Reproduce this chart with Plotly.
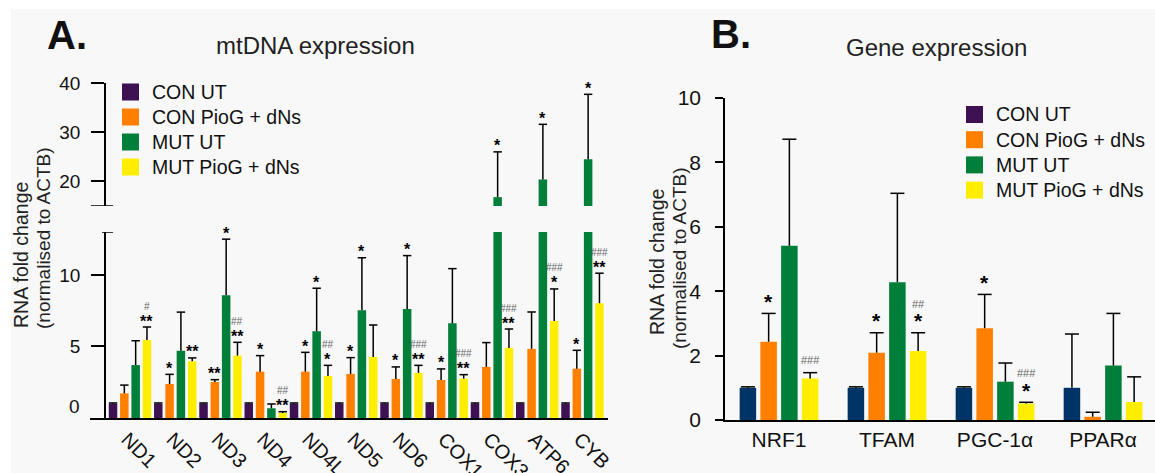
import plotly.graph_objects as go

# ---------------- DATA ----------------
series_names = ["CON UT", "CON PioG + dNs", "MUT UT", "MUT PioG + dNs"]

mt_genes = ["ND1", "ND2", "ND3", "ND4", "ND4L", "ND5", "ND6", "COX1", "COX3", "ATP6", "CYB"]
mt_con_ut = [1.0, 1.0, 1.0, 1.0, 1.0, 1.0, 1.0, 1.0, 1.0, 1.0, 1.0]
mt_con_ut_err = [0.05, 0.05, 0.05, 0.05, 0.05, 0.05, 0.05, 0.05, 0.05, 0.05, 0.05]
mt_con_piog = [1.72, 2.38, 2.52, 3.24, 3.24, 3.08, 2.73, 2.66, 3.57, 4.83, 3.45]
mt_con_piog_err = [0.58, 0.67, 0.16, 1.12, 1.35, 1.14, 0.84, 0.77, 1.70, 2.58, 1.28]
mt_mut_ut = [3.70, 4.70, 8.58, 0.68, 6.06, 7.53, 7.62, 6.62, 16.8, 20.4, 24.5]
mt_mut_ut_err = [1.70, 2.70, 3.92, 0.30, 3.01, 3.67, 3.73, 3.82, 9.2, 11.2, 13.2]
mt_mut_piog = [5.45, 3.96, 4.36, 0.35, 2.94, 4.27, 3.15, 2.75, 4.90, 6.78, 8.02]
mt_mut_piog_err = [0.91, 0.24, 0.93, 0.09, 0.74, 2.23, 0.53, 0.28, 1.32, 2.24, 2.10]

mt_stars_con_piog = ["", "*", "**", "*", "*", "*", "*", "*", "", "", "*"]
mt_stars_mut_ut = ["", "", "*", "", "*", "*", "*", "", "*", "*", "*"]
mt_stars_mut_piog = ["**", "**", "**", "**", "*", "", "**", "**", "**", "*", "**"]
mt_hash_mut_piog = ["#", "", "##", "##", "##", "", "###", "###", "###", "###", "###"]

ge_genes = ["NRF1", "TFAM", "PGC-1\u03b1", "PPAR\u03b1"]
ge_con_ut = [1.0, 1.0, 1.0, 1.0]
ge_con_ut_err = [0.03, 0.03, 0.03, 1.67]
ge_con_piog = [2.43, 2.09, 2.85, 0.10]
ge_con_piog_err = [0.88, 0.62, 1.05, 0.14]
ge_mut_ut = [5.41, 4.28, 1.19, 1.69]
ge_mut_ut_err = [3.31, 2.76, 0.58, 1.62]
ge_mut_piog = [1.29, 2.14, 0.51, 0.56]
ge_mut_piog_err = [0.18, 0.57, 0.04, 0.78]

ge_stars_con_piog = ["*", "*", "*", ""]
ge_stars_mut_piog = ["", "*", "*", ""]
ge_hash_mut_piog = ["###", "##", "###", ""]

# ---------------- STYLE ----------------
W, H = 1155, 473
FONT = "Liberation Sans, Arial, sans-serif"
legend_colors = ["#3d1152", "#ff7f00", "#007f3a", "#ffee00"]
mt_colors = ["#3d1152", "#ff7f00", "#007f3a", "#ffee00"]
ge_colors = ["#003366", "#ff7f00", "#007f3a", "#ffee00"]

MT_STEP, MT_W, MT_CAP = 0.25, 0.188, 6
GE_STEP, GE_W, GE_CAP = 0.192, 0.153, 10
LOWER_MAX = 13


def px_x(p):
    return p / W


def px_y(p):
    return 1 - p / H


fig = go.Figure()

mt_vals = [mt_con_ut, mt_con_piog, mt_mut_ut, mt_mut_piog]
mt_errs = [mt_con_ut_err, mt_con_piog_err, mt_mut_ut_err, mt_mut_piog_err]
ge_vals = [ge_con_ut, ge_con_piog, ge_mut_ut, ge_mut_piog]
ge_errs = [ge_con_ut_err, ge_con_piog_err, ge_mut_ut_err, ge_mut_piog_err]


def add_series(vals, errs, xs, color, width, cap, xa, ya):
    fig.add_trace(go.Bar(x=xs, y=vals, width=width, marker=dict(color=color, line=dict(width=0)),
                         showlegend=False, xaxis=xa, yaxis=ya, hoverinfo="skip"))
    tops = [v + e for v, e in zip(vals, errs)]
    fig.add_trace(go.Scatter(
        x=xs, y=tops, mode="markers", showlegend=False, xaxis=xa, yaxis=ya, hoverinfo="skip",
        marker=dict(symbol="line-ew-open", size=cap, color="black", line=dict(width=1.5, color="black")),
        error_y=dict(type="data", symmetric=False, array=[0] * len(tops), arrayminus=errs,
                     width=0, thickness=1.5, color="black")))


# Panel A (lower and upper segments of the broken axis)
for i in range(4):
    xs = [k + (i - 1.5) * MT_STEP for k in range(len(mt_genes))]
    add_series(mt_vals[i], mt_errs[i], xs, mt_colors[i], MT_W, MT_CAP, "x", "y")
    tall = [k for k in range(len(mt_genes)) if mt_vals[i][k] > LOWER_MAX]
    if tall:
        add_series([mt_vals[i][k] for k in tall], [mt_errs[i][k] for k in tall],
                   [xs[k] for k in tall], mt_colors[i], MT_W, MT_CAP, "x", "y3")

# Panel B
for i in range(4):
    xs = [k + (i - 1.5) * GE_STEP for k in range(len(ge_genes))]
    add_series(ge_vals[i], ge_errs[i], xs, ge_colors[i], GE_W, GE_CAP, "x2", "y2")

annotations = []
shapes = [
    dict(type="rect", xref="paper", yref="paper", x0=px_x(11), x1=1, y0=0, y1=px_y(9),
         fillcolor="#f8f8f8", line=dict(width=0), layer="below"),
    dict(type="line", xref="paper", yref="y", x0=px_x(102), x1=px_x(113), y0=LOWER_MAX, y1=LOWER_MAX,
         line=dict(color="black", width=1.5)),
    dict(type="line", xref="paper", yref="y3", x0=px_x(91), x1=px_x(113), y0=15, y1=15,
         line=dict(color="black", width=1.5)),
]


# Legends (swatch + label), one per panel
def add_legend(x_sw, y_first, row_gap):
    for j, name in enumerate(series_names):
        yc = y_first + j * row_gap
        shapes.append(dict(type="rect", xref="paper", yref="paper",
                           x0=px_x(x_sw), x1=px_x(x_sw + 17), y0=px_y(yc + 8.5), y1=px_y(yc - 8.5),
                           fillcolor=legend_colors[j], line=dict(width=0)))
        annotations.append(dict(text=name, x=px_x(x_sw + 28), y=px_y(yc), xref="paper", yref="paper",
                                xanchor="left", yanchor="middle", showarrow=False,
                                font=dict(family=FONT, size=19.5, color="#111")))


add_legend(122, 92, 25)
add_legend(966, 114.5, 25.2)


def sig(x, top, text, yref, xref, size, shift, color="black", bold=False):
    annotations.append(dict(x=x, y=top, xref=xref, yref=yref, text=("<b>%s</b>" % text) if bold else text,
                            showarrow=False, yanchor="middle", xanchor="center", yshift=shift,
                            font=dict(family=FONT, size=size, color=color)))


# significance marks panel A
mt_star_sets = {1: mt_stars_con_piog, 2: mt_stars_mut_ut, 3: mt_stars_mut_piog}
for i, stars in mt_star_sets.items():
    for k, s in enumerate(stars):
        x = k + (i - 1.5) * MT_STEP
        top = mt_vals[i][k] + mt_errs[i][k]
        yref = "y3" if top > LOWER_MAX + 1 else "y"
        if s:
            sig(x, top, s, yref, "x", 16, 6, bold=True)
        if i == 3 and mt_hash_mut_piog[k]:
            sig(x, top, mt_hash_mut_piog[k], yref, "x", 10, 21 if s else 12, color="#666666")

# significance marks panel B
ge_star_sets = {1: ge_stars_con_piog, 3: ge_stars_mut_piog}
for i, stars in ge_star_sets.items():
    for k, s in enumerate(stars):
        x = k + (i - 1.5) * GE_STEP
        top = ge_vals[i][k] + ge_errs[i][k]
        if s:
            sig(x, top, s, "y2", "x2", 21, 12, bold=True)
        if i == 3 and ge_hash_mut_piog[k]:
            sig(x, top, ge_hash_mut_piog[k], "y2", "x2", 11, 29 if s else 13, color="#666666")

# titles and labels
annotations += [
    dict(text="<b>A.</b>", x=px_x(45), y=px_y(35), xref="paper", yref="paper", xanchor="left",
         yanchor="middle", showarrow=False, font=dict(family=FONT, size=40, color="#111")),
    dict(text="<b>B.</b>", x=px_x(709), y=px_y(34), xref="paper", yref="paper", xanchor="left",
         yanchor="middle", showarrow=False, font=dict(family=FONT, size=40, color="#111")),
    dict(text="mtDNA expression", x=px_x(315.5), y=px_y(46), xref="paper", yref="paper",
         xanchor="center", yanchor="middle", showarrow=False, font=dict(family=FONT, size=24, color="#222")),
    dict(text="Gene expression", x=px_x(936.5), y=px_y(47), xref="paper", yref="paper",
         xanchor="center", yanchor="middle", showarrow=False, font=dict(family=FONT, size=24, color="#222")),
    dict(text="RNA fold change", x=px_x(21), y=px_y(255), xref="paper", yref="paper", textangle=-90,
         xanchor="center", yanchor="middle", showarrow=False, font=dict(family=FONT, size=19.5, color="#222")),
    dict(text="(normalised to ACTB)", x=px_x(43), y=px_y(238), xref="paper", yref="paper", textangle=-90,
         xanchor="center", yanchor="middle", showarrow=False, font=dict(family=FONT, size=19, color="#222")),
    dict(text="RNA fold change", x=px_x(657), y=px_y(262), xref="paper", yref="paper", textangle=-90,
         xanchor="center", yanchor="middle", showarrow=False, font=dict(family=FONT, size=19.5, color="#222")),
    dict(text="(normalised to ACTB)", x=px_x(679), y=px_y(258), xref="paper", yref="paper", textangle=-90,
         xanchor="center", yanchor="middle", showarrow=False, font=dict(family=FONT, size=19, color="#222")),
    dict(text="0", x=px_x(82), y=0, xref="paper", yref="y", xanchor="right", yanchor="middle",
         yshift=12, showarrow=False, font=dict(family=FONT, size=19, color="#111")),
]

axis_common = dict(showgrid=False, zeroline=False, showline=True, linecolor="black", linewidth=1.5,
                   tickcolor="black", tickwidth=1.5, automargin=False)

fig.update_layout(
    template="none",
    width=W, height=H, margin=dict(l=0, r=0, t=0, b=0, pad=0), autosize=False,
    paper_bgcolor="white", plot_bgcolor="rgba(0,0,0,0)", showlegend=False,
    barmode="overlay", font=dict(family=FONT, color="#111"),
    annotations=annotations, shapes=shapes,
    xaxis=dict(domain=[px_x(90), px_x(608)], range=[-0.884, 10.564], anchor="y",
               tickvals=list(range(len(mt_genes))), ticktext=mt_genes, tickangle=45, ticks="",
               ticklabelshift=-3, ticklabelstandoff=0,
               tickfont=dict(size=20, color="#111"), **axis_common),
    yaxis=dict(domain=[px_y(418), px_y(232)], range=[0, LOWER_MAX], anchor="free", position=px_x(105),
               tickvals=[5, 10], ticks="outside", ticklen=13, ticklabelstandoff=7,
               tickfont=dict(size=19, color="#111"), **axis_common),
    yaxis3=dict(domain=[px_y(206), px_y(83)], range=[15, 40], anchor="free", position=px_x(105),
                tickvals=[20, 30, 40], ticks="outside", ticklen=13, ticklabelstandoff=7,
                tickfont=dict(size=19, color="#111"), **axis_common),
    xaxis2=dict(domain=[px_x(725), 1.0], range=[-0.5, 3.481], anchor="y2",
                tickvals=list(range(len(ge_genes))), ticktext=ge_genes, ticks="",
                tickfont=dict(size=21, color="#111"), **axis_common),
    yaxis2=dict(domain=[px_y(420), px_y(98)], range=[0, 10], anchor="x2",
                tickvals=[0, 2, 4, 6, 8, 10], ticks="outside", ticklen=8, ticklabelstandoff=10,
                tickfont=dict(size=21, color="#111"), **axis_common),
)

fig.write_html("out.html", config={"responsive": False, "displayModeBar": False},
               post_script="document.body.style.margin='0';document.body.style.overflow='hidden';")
